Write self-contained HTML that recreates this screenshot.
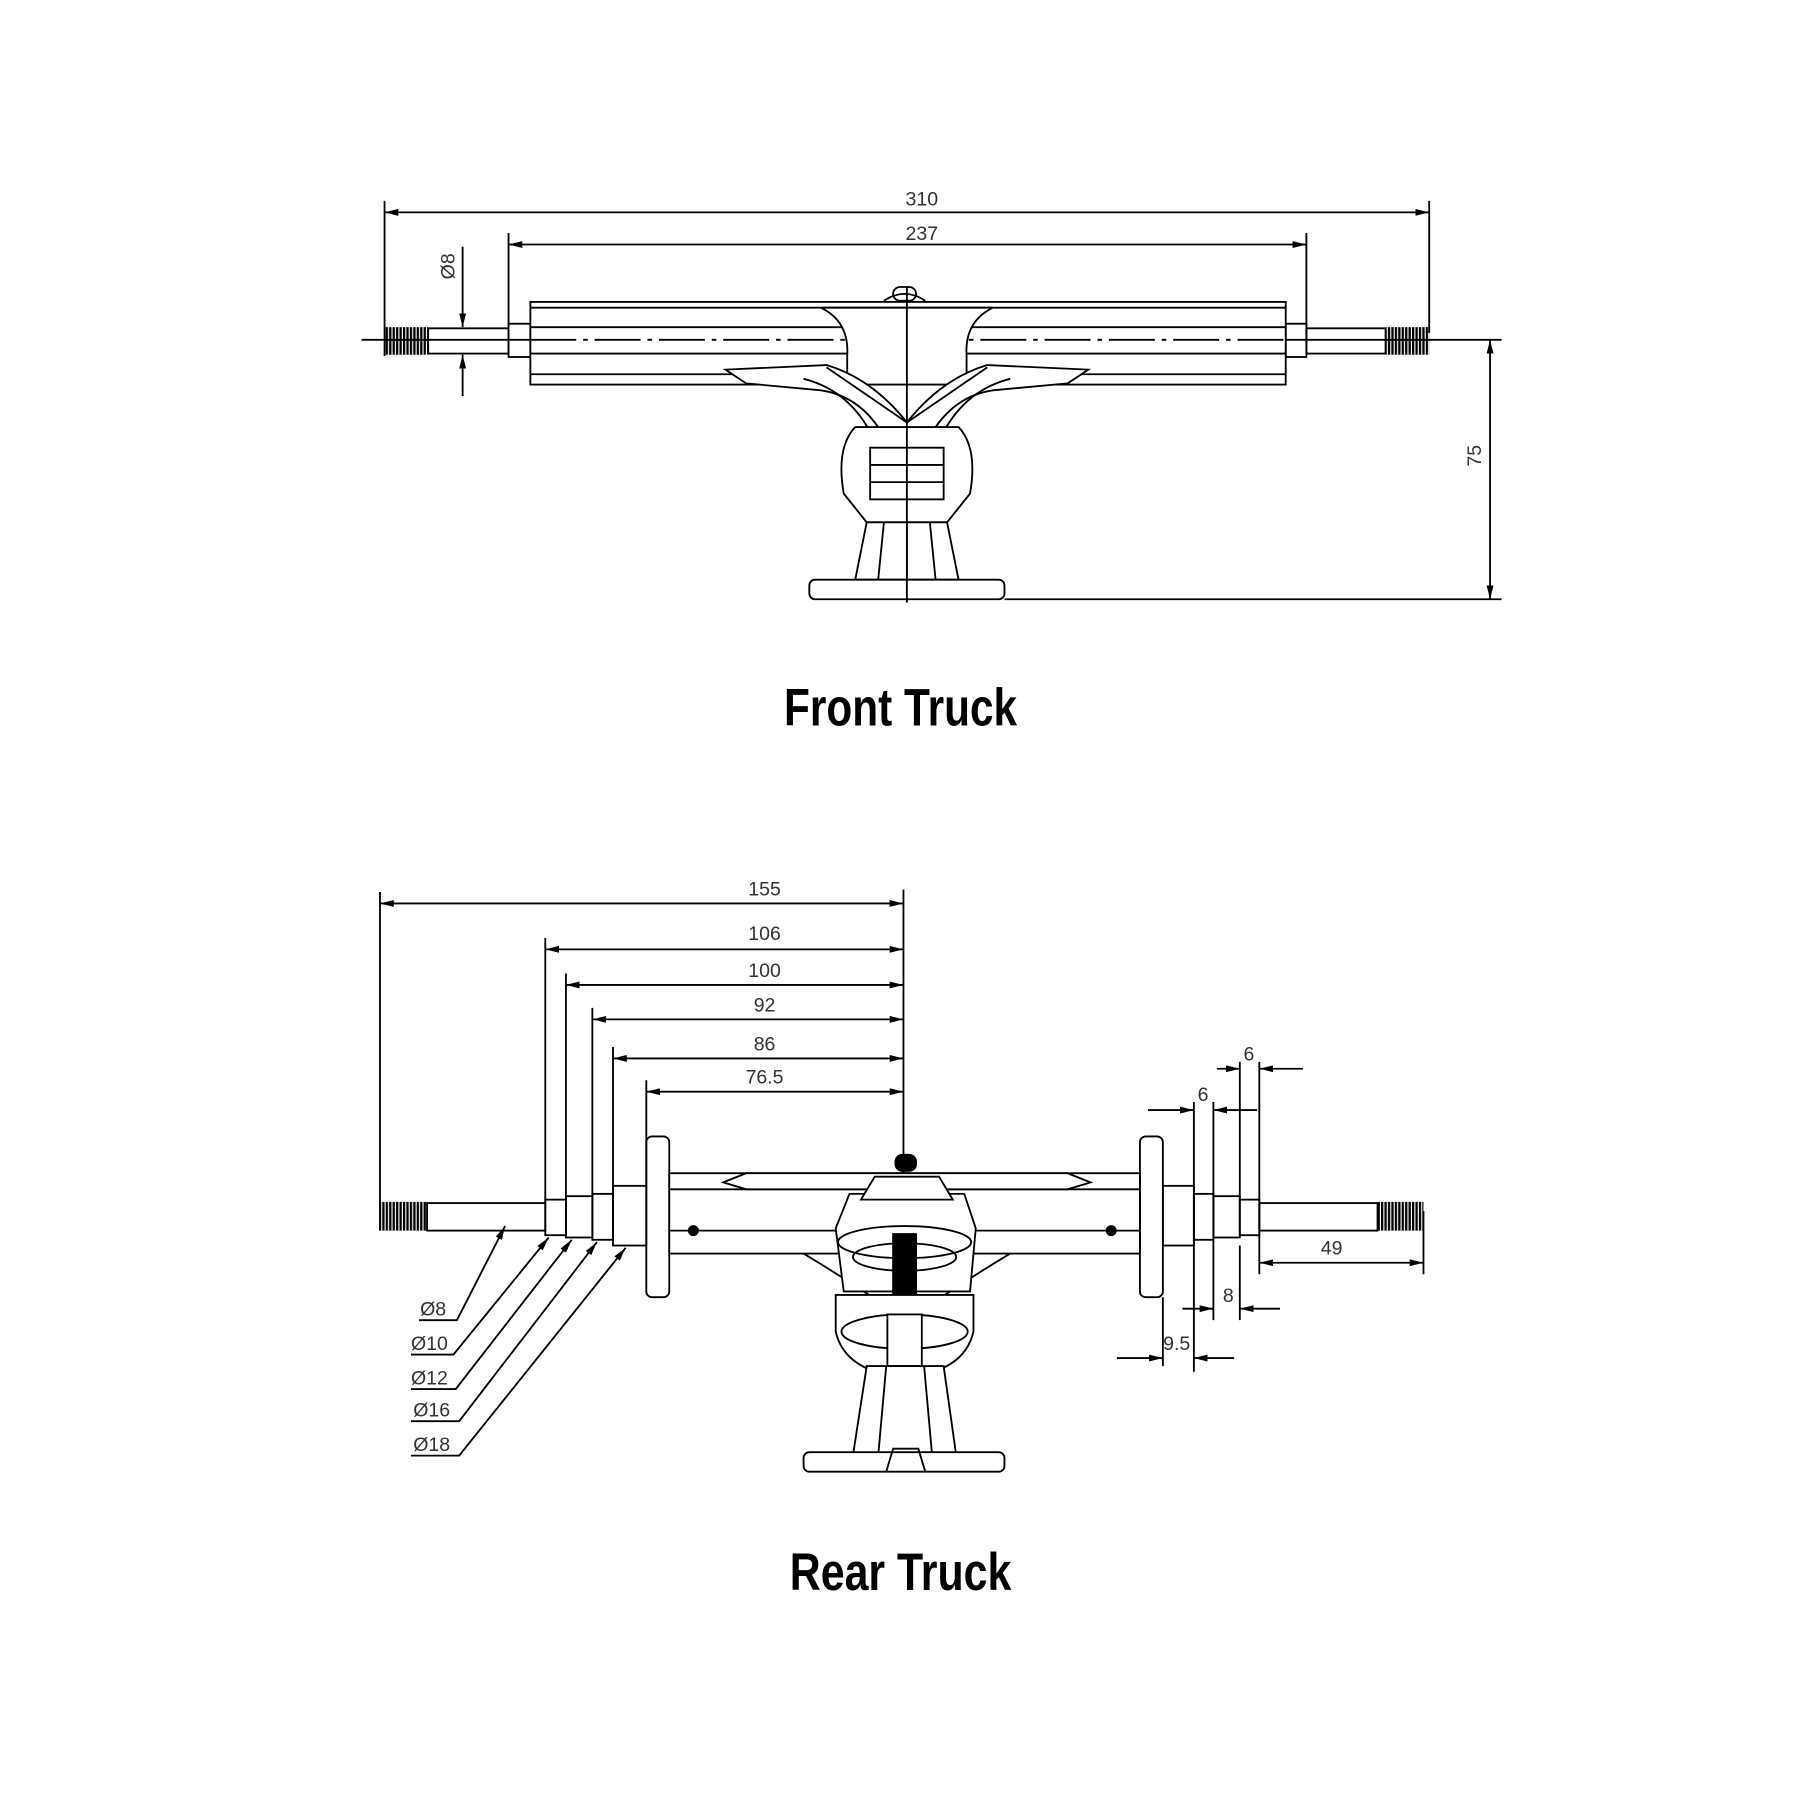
<!DOCTYPE html>
<html><head><meta charset="utf-8"><style>
html,body{margin:0;padding:0;background:#fff;}
svg{display:block;}
.d{font-family:"Liberation Sans Narrow","Liberation Sans",sans-serif;font-size:17px;fill:#333;}
.t{font-family:"Liberation Sans Narrow","Liberation Sans",sans-serif;font-weight:bold;font-size:46px;fill:#000;}
</style></head><body>
<svg width="1800" height="1800" viewBox="0 0 1568 1568" xmlns="http://www.w3.org/2000/svg">
<defs>
<marker id="a" viewBox="0 0 12 6" refX="12" refY="3" markerWidth="12" markerHeight="6" orient="auto-start-reverse" markerUnits="userSpaceOnUse"><path d="M0,0 L12,3 L0,6 z" fill="#000"/></marker>
<pattern id="th" width="3" height="4" patternUnits="userSpaceOnUse"><rect width="2" height="4" fill="#000"/></pattern>
</defs>
<rect width="1568" height="1568" fill="#fff"/>
<g stroke="#000" stroke-width="1.6" fill="none">
<!-- FRONT dims -->
<line x1="335" y1="175" x2="335" y2="310"/><line x1="1245" y1="175" x2="1245" y2="290"/>
<line x1="335" y1="185" x2="1245" y2="185" marker-start="url(#a)" marker-end="url(#a)"/>
<line x1="443" y1="203" x2="443" y2="290"/><line x1="1138" y1="203" x2="1138" y2="290"/>
<line x1="443" y1="213" x2="1138" y2="213" marker-start="url(#a)" marker-end="url(#a)"/>
<line x1="403" y1="215" x2="403" y2="285" marker-end="url(#a)"/>
<line x1="403" y1="345" x2="403" y2="309" marker-end="url(#a)"/>
<line x1="315" y1="296" x2="1308" y2="296"/>
<line x1="875" y1="522" x2="1308" y2="522"/>
<line x1="1298" y1="296" x2="1298" y2="522" marker-start="url(#a)" marker-end="url(#a)"/>
<!-- front axle -->
<rect x="335" y="285" width="38" height="24" fill="url(#th)" stroke="none"/>
<rect x="1207" y="285" width="38" height="24" fill="url(#th)" stroke="none"/>
<rect x="373" y="286" width="70" height="22"/><rect x="1138" y="286" width="69" height="22"/>
<rect x="443" y="282" width="19" height="29"/><rect x="1120" y="282" width="18" height="29"/>
<rect x="462" y="263" width="658" height="72" fill="#fff"/>
<line x1="462" y1="268" x2="1120" y2="268"/><line x1="462" y1="285" x2="1120" y2="285"/>
<line x1="462" y1="308" x2="1120" y2="308"/><line x1="462" y1="326" x2="1120" y2="326"/>
<line x1="462" y1="296" x2="1120" y2="296" stroke-dasharray="40,6,4,6"/>
<path d="M715,268 Q740,280 738,310 L738,335 L842,335 L842,310 Q840,280 865,268 Z" fill="#fff"/>
<path d="M770,262 Q788,250 806,262" /><rect x="778" y="250" width="20" height="12" rx="6"/>
<path d="M632,322 L720,318 Q760,330 790,368 Q820,330 860,318 L948,322 L930,334 L865,340 Q830,345 810,380 L770,380 Q750,345 715,340 L650,334 Z" fill="#fff"/>
<path d="M700,330 Q740,340 760,380 M880,330 Q840,340 820,380 M720,320 L790,368 L860,320"/>
<path d="M745,372 L835,372 Q852,390 845,430 L825,455 L755,455 L735,430 Q728,390 745,372 Z" fill="#fff"/>
<rect x="758" y="390" width="64" height="45"/><line x1="758" y1="405" x2="822" y2="405"/><line x1="758" y1="420" x2="822" y2="420"/>
<path d="M755,455 L745,505 L835,505 L825,455 Z" fill="#fff"/>
<line x1="770" y1="455" x2="765" y2="505"/><line x1="810" y1="455" x2="815" y2="505"/><line x1="790" y1="455" x2="790" y2="505"/>
<rect x="705" y="505" width="170" height="17" rx="5" fill="#fff"/>
<line x1="790" y1="250" x2="790" y2="525"/>
<!-- REAR dims -->
<line x1="331" y1="777" x2="331" y2="1072"/>
<line x1="787" y1="775" x2="787" y2="1140"/>
<line x1="331" y1="787" x2="787" y2="787" marker-start="url(#a)" marker-end="url(#a)"/>
<line x1="475" y1="817" x2="475" y2="1048"/><line x1="475" y1="827" x2="787" y2="827" marker-start="url(#a)" marker-end="url(#a)"/>
<line x1="493" y1="848" x2="493" y2="1045"/><line x1="493" y1="858" x2="787" y2="858" marker-start="url(#a)" marker-end="url(#a)"/>
<line x1="516" y1="878" x2="516" y2="1042"/><line x1="516" y1="888" x2="787" y2="888" marker-start="url(#a)" marker-end="url(#a)"/>
<line x1="534" y1="912" x2="534" y2="1040"/><line x1="534" y1="922" x2="787" y2="922" marker-start="url(#a)" marker-end="url(#a)"/>
<line x1="563" y1="941" x2="563" y2="1033"/><line x1="563" y1="951" x2="787" y2="951" marker-start="url(#a)" marker-end="url(#a)"/>
<!-- right dims -->
<line x1="1080" y1="925" x2="1080" y2="1045"/><line x1="1097" y1="925" x2="1097" y2="1110"/>
<line x1="1060" y1="931" x2="1080" y2="931" marker-end="url(#a)"/><line x1="1135" y1="931" x2="1097" y2="931" marker-end="url(#a)"/>
<line x1="1040" y1="960" x2="1040" y2="1195"/><line x1="1057" y1="960" x2="1057" y2="1150"/>
<line x1="1000" y1="967" x2="1040" y2="967" marker-end="url(#a)"/><line x1="1095" y1="967" x2="1057" y2="967" marker-end="url(#a)"/>
<line x1="1240" y1="1055" x2="1240" y2="1110"/>
<line x1="1097" y1="1100" x2="1240" y2="1100" marker-start="url(#a)" marker-end="url(#a)"/>
<line x1="1080" y1="1085" x2="1080" y2="1150"/>
<line x1="1030" y1="1140" x2="1057" y2="1140" marker-end="url(#a)"/><line x1="1115" y1="1140" x2="1080" y2="1140" marker-end="url(#a)"/>
<line x1="1013" y1="1130" x2="1013" y2="1190"/>
<line x1="973" y1="1183" x2="1013" y2="1183" marker-end="url(#a)"/><line x1="1075" y1="1183" x2="1040" y2="1183" marker-end="url(#a)"/>
<!-- leaders -->
<polyline points="365,1150 398,1150 440,1068" marker-end="url(#a)"/>
<polyline points="358,1180 395,1180 478,1078" marker-end="url(#a)"/>
<polyline points="358,1210 397,1210 498,1080" marker-end="url(#a)"/>
<polyline points="358,1238 400,1238 520,1082" marker-end="url(#a)"/>
<polyline points="358,1268 400,1268 545,1087" marker-end="url(#a)"/>
<!-- rear axle -->
<rect x="331" y="1047" width="41" height="25" fill="url(#th)" stroke="none"/>
<rect x="1200" y="1047" width="40" height="25" fill="url(#th)" stroke="none"/>
<rect x="372" y="1048" width="103" height="24"/><rect x="1097" y="1048" width="103" height="24"/>
<rect x="475" y="1045" width="18" height="31"/><rect x="493" y="1042" width="23" height="36"/>
<rect x="516" y="1040" width="18" height="40"/><rect x="534" y="1033" width="29" height="52"/>
<rect x="1080" y="1045" width="17" height="31"/><rect x="1057" y="1042" width="23" height="36"/>
<rect x="1040" y="1040" width="17" height="40"/><rect x="1013" y="1033" width="27" height="52"/>
<rect x="563" y="990" width="20" height="140" rx="5"/><rect x="993" y="990" width="20" height="140" rx="5"/>
<rect x="583" y="1022" width="410" height="70" fill="#fff"/>
<line x1="583" y1="1036" x2="993" y2="1036"/><line x1="583" y1="1072" x2="993" y2="1072"/>
<path d="M630,1030 L650,1022 L930,1022 L950,1030 L930,1036 L650,1036 Z" fill="#fff"/>
<circle cx="604" cy="1072" r="4" fill="#000"/><circle cx="968" cy="1072" r="4" fill="#000"/>
<path d="M700,1092 Q730,1110 760,1130 M880,1092 Q850,1110 820,1130"/>
<path d="M740,1040 L840,1040 L850,1070 L845,1125 L735,1125 L728,1070 Z" fill="#fff"/>
<path d="M762,1025 L818,1025 L830,1045 L750,1045 Z" fill="#fff"/>
<rect x="780" y="1006" width="18" height="14" rx="6" fill="#000"/>
<ellipse cx="788" cy="1082" rx="58" ry="14"/>
<ellipse cx="788" cy="1095" rx="45" ry="12"/>
<rect x="778" y="1075" width="20" height="52" fill="#000"/>
<path d="M728,1128 L848,1128 L848,1160 Q840,1195 788,1200 Q736,1195 728,1160 Z" fill="#fff"/>
<ellipse cx="788" cy="1160" rx="55" ry="15"/>
<rect x="773" y="1145" width="30" height="45" fill="#fff"/>
<path d="M755,1190 L743,1268 L833,1268 L822,1190 Z" fill="#fff"/>
<line x1="772" y1="1190" x2="765" y2="1268"/><line x1="805" y1="1190" x2="812" y2="1268"/>
<rect x="700" y="1265" width="175" height="17" rx="5" fill="#fff"/>
<path d="M772,1282 L778,1262 L800,1262 L806,1282"/>
</g>
<!-- labels -->
<g class="d" text-anchor="middle">
<text x="803" y="179">310</text><text x="803" y="209">237</text>
<text transform="translate(396,232) rotate(-90)">Ø8</text>
<text transform="translate(1290,397) rotate(-90)">75</text>
<text x="666" y="780">155</text><text x="666" y="819">106</text><text x="666" y="851">100</text>
<text x="666" y="881">92</text><text x="666" y="915">86</text><text x="666" y="944">76.5</text>
<text x="1088" y="924">6</text><text x="1048" y="959">6</text><text x="1160" y="1093">49</text>
<text x="1070" y="1134">8</text><text x="1025" y="1176">9.5</text>
</g>
<g class="d" font-size="18">
<text x="366" y="1146">Ø8</text><text x="358" y="1176">Ø10</text><text x="358" y="1206">Ø12</text>
<text x="360" y="1234">Ø16</text><text x="360" y="1264">Ø18</text>
</g>
<text class="t" x="683" y="632" textLength="203" lengthAdjust="spacingAndGlyphs">Front Truck</text>
<text class="t" x="688" y="1385" textLength="193" lengthAdjust="spacingAndGlyphs">Rear Truck</text>
</svg>
</body></html>
